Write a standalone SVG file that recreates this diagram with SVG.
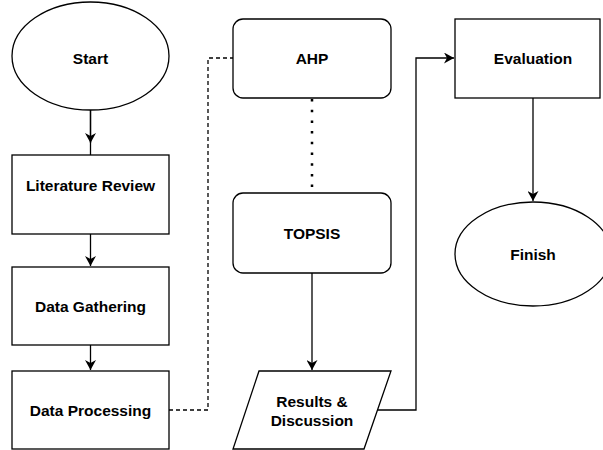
<svg xmlns="http://www.w3.org/2000/svg" width="603" height="450" viewBox="0 0 603 450">
<defs>
<style>
.s{fill:#fff;stroke:#000;stroke-width:1.3}
.t{font-family:"Liberation Sans",Arial,sans-serif;font-weight:bold;font-size:15.5px;fill:#000;text-anchor:middle;dominant-baseline:central}
.c{fill:none;stroke:#000;stroke-width:1.3}
</style>
<marker id="ah" markerWidth="11" markerHeight="11" refX="10" refY="5.5" orient="auto" markerUnits="userSpaceOnUse">
<path d="M0,0 L10,5.5 L0,11 L3,5.5 Z" fill="#000"/>
</marker>
</defs>
<g id="connectors">
<line class="c" x1="90.5" y1="110" x2="90.5" y2="155"/>
<line class="c" x1="90.5" y1="110" x2="90.5" y2="143" marker-end="url(#ah)"/>
<line class="c" x1="90.5" y1="234" x2="90.5" y2="266" marker-end="url(#ah)"/>
<line class="c" x1="90.5" y1="345" x2="90.5" y2="370" marker-end="url(#ah)"/>
<polyline class="c" points="169,410 208,410 208,58 233,58" stroke-dasharray="4,3"/>
<line x1="312" y1="99" x2="312" y2="193" stroke="#000" stroke-width="2.5" stroke-dasharray="2.5,8.2"/>
<line class="c" x1="312" y1="273" x2="312" y2="370" stroke="#555" marker-end="url(#ah)"/>
<polyline class="c" points="378,410 416,410 416,58 454,58" marker-end="url(#ah)"/>
<line class="c" x1="533" y1="98" x2="533" y2="201" marker-end="url(#ah)"/>
</g>
<g id="start"><ellipse class="s" cx="90.5" cy="56" rx="78.5" ry="54"/><text class="t" x="90.5" y="58">Start</text></g>
<g id="literature"><rect class="s" x="12" y="155" width="157" height="79"/><text class="t" x="90.5" y="185">Literature Review</text></g>
<g id="gathering"><rect class="s" x="12" y="267" width="157" height="78"/><text class="t" x="90.5" y="306">Data Gathering</text></g>
<g id="processing"><rect class="s" x="12" y="371" width="157" height="78"/><text class="t" x="90.5" y="410">Data Processing</text></g>
<g id="ahp"><rect class="s" x="233" y="19" width="158" height="79" rx="10"/><text class="t" x="312" y="58">AHP</text></g>
<g id="topsis"><rect class="s" x="233" y="193" width="158" height="80" rx="10"/><text class="t" x="312" y="233">TOPSIS</text></g>
<g id="results"><polygon class="s" points="259,371 391,371 364,449 233,449"/><text class="t" x="312" y="401">Results &amp;</text><text class="t" x="312" y="420">Discussion</text></g>
<g id="evaluation"><rect class="s" x="455" y="19" width="145" height="79"/><text class="t" x="533" y="58">Evaluation</text></g>
<g id="finish"><ellipse class="s" cx="533" cy="254" rx="78" ry="52"/><text class="t" x="533" y="254">Finish</text></g>
</svg>
